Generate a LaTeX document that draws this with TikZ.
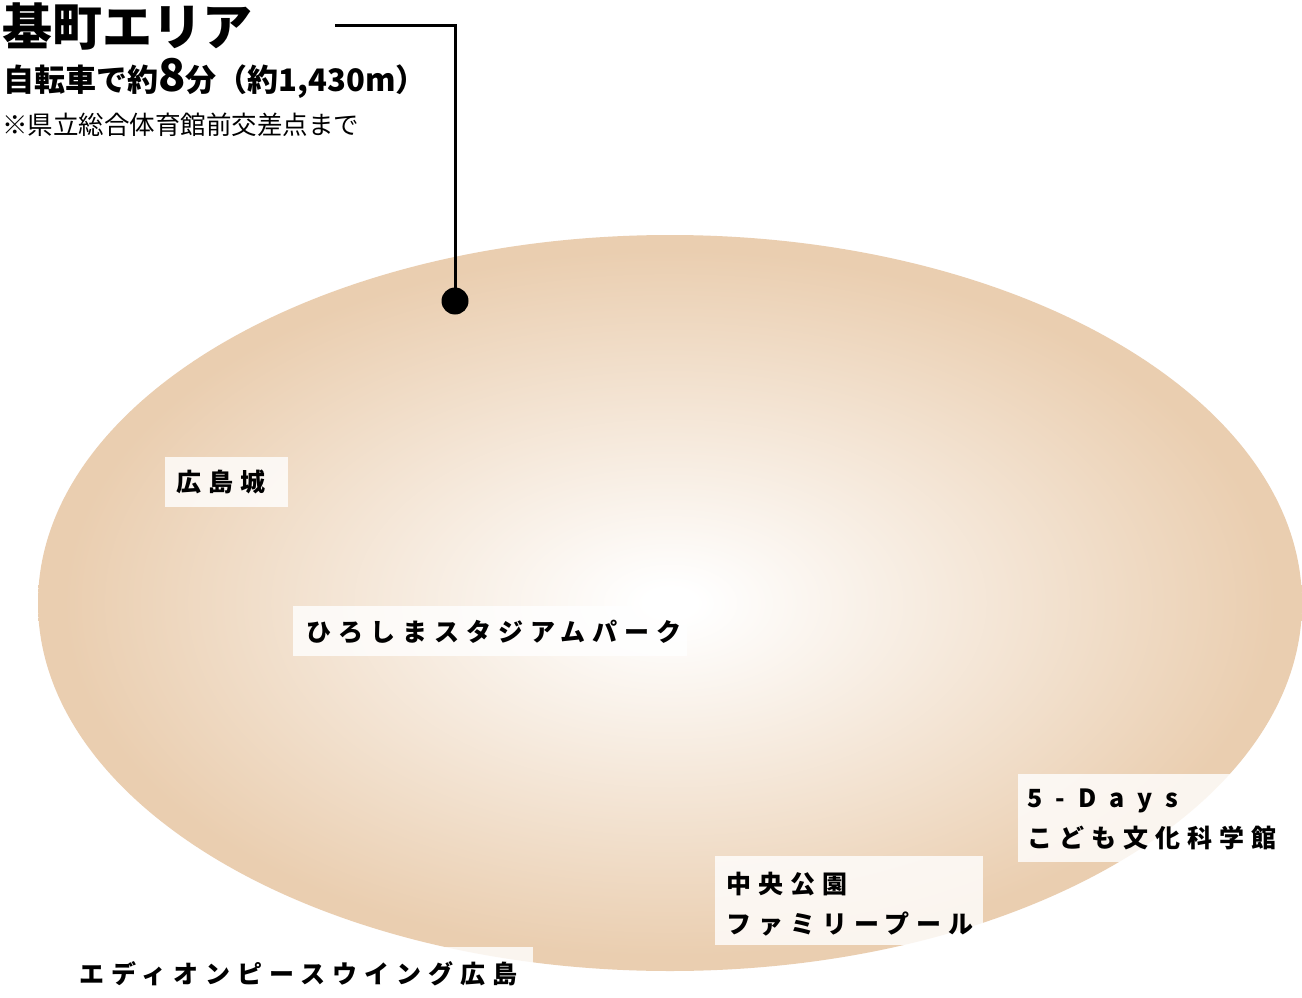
\documentclass[tikz,border=0pt]{standalone}
\usepackage{fontspec}
\setmainfont{Noto Sans CJK JP}
\newfontfamily\lblfont{Noto Sans CJK JP}[LetterSpace=28]
\newfontfamily\latinlbl{Noto Sans CJK JP}[LetterSpace=52]
\definecolor{maptan}{RGB}{234,206,176}
\pgfdeclareradialshading{mapglow}{\pgfpoint{0bp}{0bp}}{color(0bp)=(white); color(1bp)=(white); color(24bp)=(maptan); color(50bp)=(maptan)}
\tikzset{
  lbox/.style={fill=white, fill opacity=0.8, draw=none, inner sep=0pt, anchor=north west},
  ltext/.style={inner sep=0pt, anchor=west, align=left, text=black,
    font=\lblfont\bfseries\fontsize{25pt}{40pt}\selectfont},
  head/.style={inner sep=0pt, anchor=base west, text=black},
  lead/.style={draw=black, line width=3pt},
  pin/.style={circle, fill=black, inner sep=0pt, minimum size=27pt}
}
\begin{document}
\begin{tikzpicture}[x=1pt,y=-1pt]
\useasboundingbox (0,0) rectangle (1302,998);
\fill[white] (0,0) rectangle (1302,998);
\shade[shading=mapglow] (670,603) ellipse [x radius=632pt, y radius=368pt];

% label boxes
\node[lbox, minimum width=123pt, minimum height=50pt] (b1) at (165,457) {};
\node[lbox, minimum width=394pt, minimum height=50pt] (b2) at (293,606) {};
\node[lbox, minimum width=274pt, minimum height=88pt] (b3) at (1018,774) {};
\node[lbox, minimum width=268pt, minimum height=89pt] (b4) at (715,856) {};
\node[lbox, minimum width=468pt, minimum height=51pt] (b5) at (65,947) {};

\node[ltext] (t1) at ([xshift=11pt]b1.west) {広島城};
\node[ltext] (t2) at ([xshift=13pt,yshift=-1pt]b2.west) {ひろしまスタジアムパーク};
\node[ltext] (t3) at ([xshift=9pt,yshift=-1pt]b3.west) {{\latinlbl 5-Days}\\こども文化科学館};
\node[ltext] (t4) at ([xshift=11pt,yshift=-3pt]b4.west) {中央公園\\ファミリープール};
\node[ltext] (t5) at ([xshift=14pt,yshift=-1pt]b5.west) {エディオンピースウイング広島};

% heading
\node[head, font=\bfseries\fontsize{50pt}{50pt}\selectfont] (title) at (2,46) {基町エリア};
\node[head, font=\bfseries\fontsize{31pt}{31pt}\selectfont] (sub) at (3,92) {自転車で約{\fontsize{45pt}{45pt}\selectfont 8}分（約1,430m）};
\node[head, font=\fontsize{25.5pt}{25.5pt}\selectfont] (note) at (2,134) {※県立総合体育館前交差点まで};

% leader
\coordinate (lstart) at (335,26);
\node[pin] (dot) at (455,301) {};
\draw[lead] (lstart) -| (dot.center);
\end{tikzpicture}
\end{document}
